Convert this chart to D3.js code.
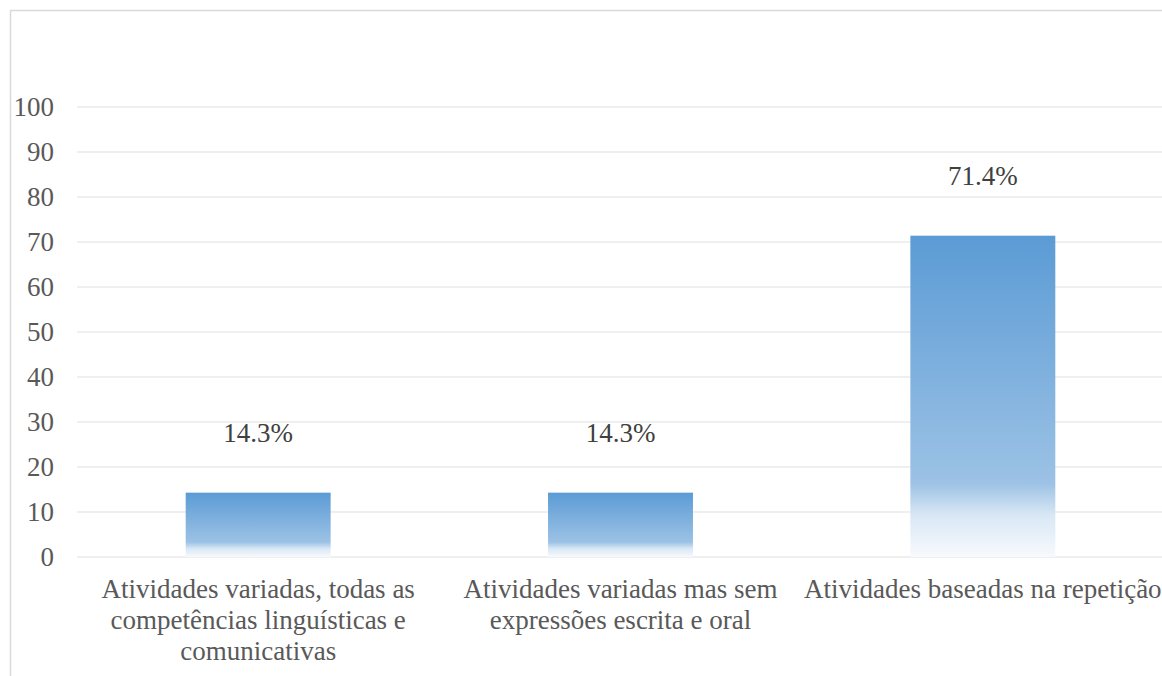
<!DOCTYPE html>
<html>
<head>
<meta charset="utf-8">
<script src="https://cdn.jsdelivr.net/npm/d3@7"></script>
<style>
  html, body { margin: 0; padding: 0; background: #fff; }
  svg { display: block; }
</style>
</head>
<body>
<svg id="chart" width="1162" height="676" font-family="Liberation Serif"></svg>
<script>
// Category labels (each entry is a list of wrapped lines)
const categories = [
  ["Atividades variadas, todas as", "competências linguísticas e", "comunicativas"],
  ["Atividades variadas mas sem", "expressões escrita e oral"],
  ["Atividades baseadas na repetição"]
];
const values = [14.3, 14.3, 71.4];
const yTicks = [0, 10, 20, 30, 40, 50, 60, 70, 80, 90, 100];

const svg = d3.select("#chart");
const W = 1162, H = 676;
const plot = { left: 77, right: 1164, top: 107, bottom: 557 };
const FS = "27px";
const textColor = "#595959";

// Chart frame
svg.append("rect")
  .attr("x", 10.5).attr("y", 10.5)
  .attr("width", W).attr("height", H)
  .attr("fill", "#fff").attr("stroke", "#d9d9d9").attr("stroke-width", 1.5);

const x = d3.scaleBand()
  .domain(d3.range(categories.length))
  .range([plot.left, plot.right])
  .paddingInner(0.6).paddingOuter(0.3);

const y = d3.scaleLinear().domain([0, 100]).range([plot.bottom, plot.top]);

// Gradient fill for bars
const defs = svg.append("defs");
const grad = defs.append("linearGradient")
  .attr("id", "barFill")
  .attr("x1", 0).attr("y1", 0).attr("x2", 0).attr("y2", 1);
[[0, "#5b9bd5"], [0.77, "#9cc2e5"], [0.87, "#d9e7f5"], [1, "#f7fafd"]]
  .forEach(([o, c]) => grad.append("stop").attr("offset", o).attr("stop-color", c));

// Horizontal gridlines
svg.append("g")
  .selectAll("line")
  .data(yTicks)
  .join("line")
  .attr("x1", plot.left).attr("x2", plot.right)
  .attr("y1", d => y(d)).attr("y2", d => y(d))
  .attr("stroke", "#efefef").attr("stroke-width", 2);

// Y axis labels, drawn as plain text from the tick values
svg.append("g")
  .selectAll("text")
  .data(yTicks)
  .join("text")
  .attr("x", plot.left - 23)
  .attr("y", d => y(d))
  .attr("dy", "0.33em")
  .attr("text-anchor", "end")
  .style("font-family", '"Liberation Serif"')
  .style("font-size", FS)
  .attr("fill", textColor)
  .text(d => d);

// Bars
svg.append("g")
  .selectAll("rect")
  .data(values)
  .join("rect")
  .attr("x", (d, i) => x(i))
  .attr("y", d => y(d))
  .attr("width", x.bandwidth())
  .attr("height", d => y(0) - y(d))
  .attr("fill", "url(#barFill)");

// Value labels
svg.append("g")
  .selectAll("text")
  .data(values)
  .join("text")
  .attr("x", (d, i) => x(i) + x.bandwidth() / 2)
  .attr("y", d => y(d) - 51)
  .attr("text-anchor", "middle")
  .style("font-family", '"Liberation Serif"')
  .style("font-size", FS)
  .attr("fill", "#404040")
  .text(d => d.toFixed(1) + "%");

// Category labels
const cat = svg.append("g")
  .selectAll("text")
  .data(categories)
  .join("text")
  .attr("text-anchor", "middle")
  .style("font-family", '"Liberation Serif"')
  .style("font-size", FS)
  .attr("fill", textColor);
cat.each(function (lines, i) {
  const cx = x(i) + x.bandwidth() / 2;
  d3.select(this).selectAll("tspan")
    .data(lines)
    .join("tspan")
    .attr("x", cx)
    .attr("y", (d, j) => 598 + j * 31)
    .text(d => d);
});
</script>
</body>
</html>
